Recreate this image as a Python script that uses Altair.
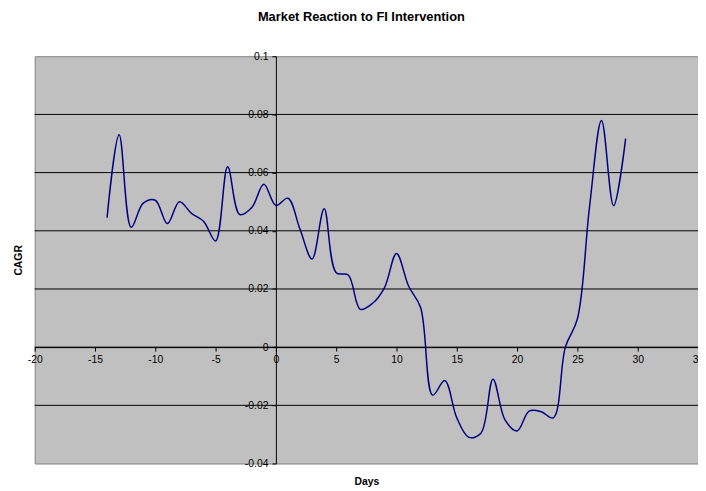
import altair as alt
import pandas as pd

# ---- data ----
days = list(range(-14, 30))
cagr = [
    0.0445, 0.0730, 0.0412, 0.0495, 0.0505, 0.0425, 0.0500, 0.0460, 0.0433, 0.0365,
    0.0620, 0.0456, 0.0480, 0.0560, 0.0487, 0.0512, 0.0405, 0.0303, 0.0476, 0.0256,
    0.0248, 0.0130, 0.0150, 0.0204, 0.0322, 0.0210, 0.0136, -0.0165, -0.0115, -0.0243,
    -0.0310, -0.0296, -0.0110, -0.0250, -0.0288, -0.0220, -0.0222, -0.0243, 0.0000, 0.0097,
    0.0480, 0.0779, 0.0486, 0.0717,
]
x_ticks = [-20, -15, -10, -5, 0, 5, 10, 15, 20, 25, 30, 35]
y_ticks = [-0.04, -0.02, 0, 0.02, 0.04, 0.06, 0.08, 0.1]
grid_vals = [-0.02, 0, 0.02, 0.04, 0.06, 0.08]

X_MIN, X_MAX = -20, 35
Y_MIN, Y_MAX = -0.04, 0.1
W, H = 671, 412
FONT = "Liberation Sans"

# pixel location (inside the plot) of the value 0 on each scale
x_axis_pos = H * (Y_MAX - 0) / (Y_MAX - Y_MIN)
y_axis_pos = W * (0 - X_MIN) / (X_MAX - X_MIN)

df = pd.DataFrame({"Days": days, "CAGR": cagr})
grid_df = pd.DataFrame({"CAGR": grid_vals})

xscale = alt.Scale(domain=[X_MIN, X_MAX], nice=False, zero=False)
yscale = alt.Scale(domain=[Y_MIN, Y_MAX], nice=False, zero=False)

y_axis = alt.Axis(
    values=y_ticks,
    labelExpr="toString(datum.value)",
    grid=False,
    offset=-y_axis_pos,
    title="CAGR",
    titleX=-(y_axis_pos + 16),
    titleY=H / 2,
    titleAngle=270,
    titleBaseline="middle",
    titleAlign="center",
    titleFont=FONT,
    titleFontSize=10.5,
    titleFontWeight="bold",
    titleColor="#000000",
    labelFont=FONT,
    labelFontSize=10.5,
    labelColor="#000000",
    labelPadding=4,
    labelOverlap=False,
    labelFlush=False,
    domainColor="#000000",
    tickColor="#000000",
    tickSize=4,
)

x_axis = alt.Axis(
    values=x_ticks,
    labelExpr="toString(datum.value)",
    grid=False,
    offset=x_axis_pos - H,
    title="Days",
    titleX=W / 2,
    titleY=(H - x_axis_pos) + 18,
    titleBaseline="middle",
    titleAlign="center",
    titleFont=FONT,
    titleFontSize=10.5,
    titleFontWeight="bold",
    titleColor="#000000",
    labelFont=FONT,
    labelFontSize=10.5,
    labelColor="#000000",
    labelPadding=4,
    labelOverlap=False,
    labelFlush=False,
    domainColor="#000000",
    tickColor="#000000",
    tickSize=4,
)

grid = alt.Chart(grid_df).mark_rule(color="#000000", strokeWidth=1).encode(
    y=alt.Y("CAGR:Q", scale=yscale, axis=y_axis)
)

line = alt.Chart(df).mark_line(
    color="#000080", strokeWidth=1.5, interpolate="catmull-rom"
).encode(
    x=alt.X("Days:Q", scale=xscale, axis=x_axis),
    y=alt.Y("CAGR:Q", scale=yscale, axis=y_axis),
)

chart = (
    alt.layer(grid, line)
    .properties(
        width=W,
        height=H,
        title=alt.TitleParams(
            "Market Reaction to FI Intervention",
            font=FONT,
            fontSize=13,
            fontWeight="bold",
            color="#000000",
            anchor="middle",
            frame="group",
            offset=28,
            dx=-5,
        ),
        autosize=alt.AutoSizeParams(type="none"),
        padding={"left": 27, "top": 46, "right": 0, "bottom": 25},
        background="#ffffff",
    )
    .configure_view(fill="#C0C0C0", stroke="#808080", strokeWidth=1)
)

chart.save("out.html", embed_options={"renderer": "svg", "actions": False})
